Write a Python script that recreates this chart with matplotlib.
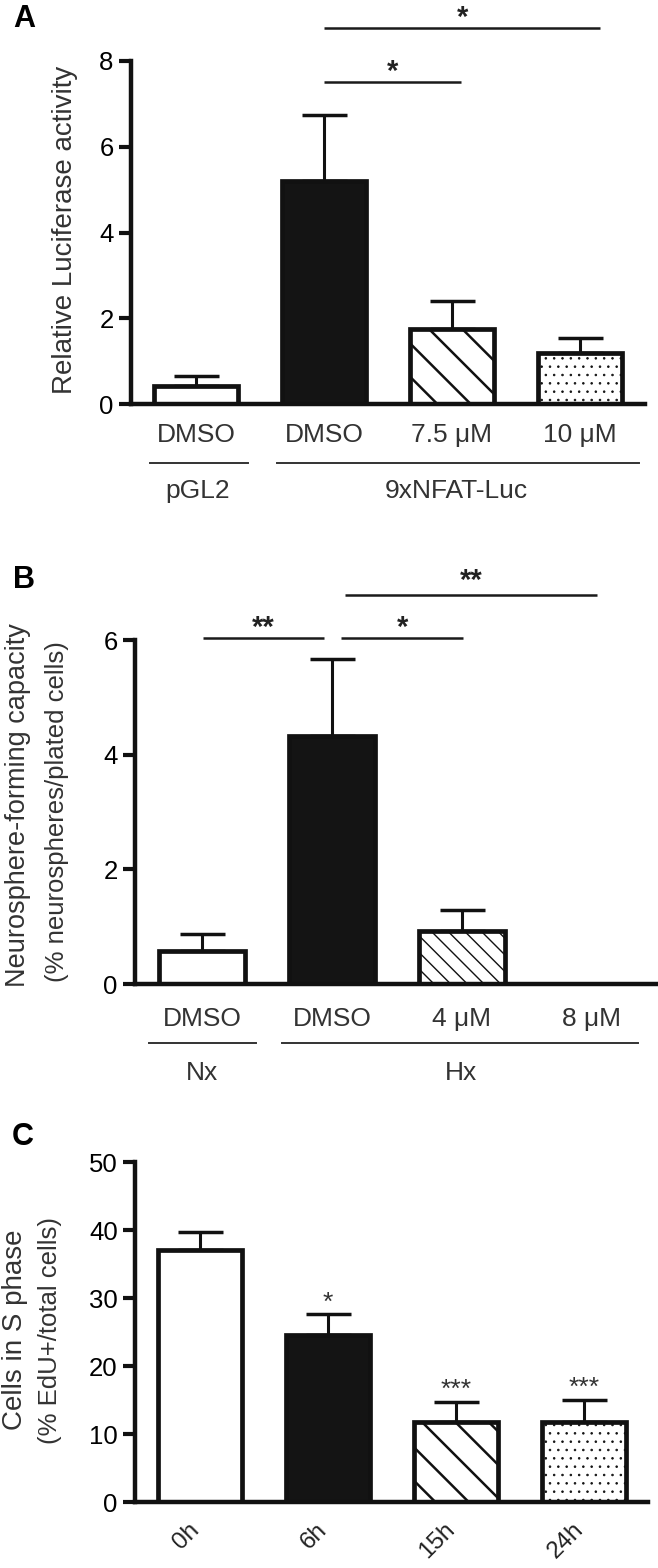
import matplotlib
matplotlib.use("Agg")
import matplotlib.pyplot as plt
import matplotlib.transforms as mtransforms
import numpy as np

plt.rcParams['font.family'] = ['Liberation Sans', 'DejaVu Sans']

# panel A - luciferase reporter
a_labels = ['DMSO', 'DMSO', '7.5 μM', '10 μM']
a_values = [0.41, 5.20, 1.76, 1.20]
a_err = [0.24, 1.54, 0.64, 0.33]
a_groups = ['pGL2', '9xNFAT-Luc']

# panel B - neurosphere forming
b_labels = ['DMSO', 'DMSO', '4 μM', '8 μM']
b_values = [0.58, 4.32, 0.92, 0.0]
b_err = [0.29, 1.35, 0.37, 0.0]
b_groups = ['Nx', 'Hx']

# panel C - S phase
c_labels = ['0h', '6h', '15h', '24h']
c_values = [37.1, 24.6, 11.7, 11.7]
c_err = [2.6, 3.0, 3.0, 3.3]
c_stars = ['', '*', '***', '***']

W, H = 658, 1568
fig = plt.figure(figsize=(W / 100, H / 100), dpi=100)

INK = '#111111'
GREY = '#333333'


def px_axes(left, top, right, bottom):
    return fig.add_axes([left / W, 1 - bottom / H, (right - left) / W, (bottom - top) / H])


def bars(ax, values, err, hatches, hatch_lws, width=0.66):
    x = np.arange(len(values))
    faces = ['white', '#141414', 'white', 'white']
    for i in range(len(values)):
        with plt.rc_context({'hatch.linewidth': hatch_lws[i]}):
            b = ax.bar(x[i], values[i], width=width, color=faces[i], edgecolor=INK,
                       linewidth=3.4, hatch=hatches[i], zorder=3)
        for p in b:
            if hasattr(p, 'set_hatch_linewidth'):
                p.set_hatch_linewidth(hatch_lws[i])
    ax.errorbar(x, values, yerr=[np.zeros(len(values)), err], fmt='none',
                ecolor=INK, elinewidth=2.2, capsize=16.2, capthick=2.5, zorder=1)
    return x


def style(ax, xlim, ylim, yticks):
    ax.set_xlim(*xlim)
    ax.set_ylim(*ylim)
    ax.set_yticks(yticks)
    for s in ['top', 'right']:
        ax.spines[s].set_visible(False)
    for s in ['left', 'bottom']:
        ax.spines[s].set_linewidth(3.2)
        ax.spines[s].set_color(INK)
        ax.spines[s].set_zorder(4)
    ax.tick_params(axis='y', length=9, width=3, color=INK, labelsize=18.5, pad=3.5)
    ax.tick_params(axis='x', length=0, labelsize=19, labelcolor=GREY)


def sig(ax, x0, x1, y, ystar, text, fs=21):
    ax.plot([x0, x1], [y, y], color='#1a1a1a', lw=1.8, clip_on=False, solid_capstyle='butt')
    ax.annotate(text, xy=((x0 + x1) / 2, ystar), xytext=(0, -0.56 * fs),
                textcoords='offset points', ha='center', va='baseline',
                fontsize=fs, fontweight='bold', color='#222222', annotation_clip=False)


def group_line(x0, x1, y):
    fig.add_artist(plt.Line2D([x0 / W, x1 / W], [1 - y / H, 1 - y / H],
                              transform=fig.transFigure, color=GREY, lw=1.4))


def ftext(x, y, s, **kw):
    return fig.text(x / W, 1 - y / H, s, **kw)


# ---------------- A ----------------
axA = px_axes(131, 61, 645, 404)
xa = bars(axA, a_values, a_err, [None, None, '\\', '..'], [1, 1, 1.8, 0.6])
style(axA, (-0.508, 3.508), (0, 8), [0, 2, 4, 6, 8])
axA.set_xticks(xa, a_labels)
axA.tick_params(axis='x', pad=13.5)
sig(axA, 1.0, 3.16, 8.77, 9.19, '*')
sig(axA, 1.0, 2.07, 7.51, 7.95, '*')
group_line(150, 248, 463)
group_line(277, 639, 463)
ftext(198, 498, a_groups[0], ha='center', va='baseline', fontsize=19, color=GREY)
ftext(456, 498, a_groups[1], ha='center', va='baseline', fontsize=19, color=GREY)
ftext(65, 230, 'Relative Luciferase activity', rotation=90, ha='center', va='center',
      fontsize=20, color=GREY)
ftext(13, 27, 'A', fontsize=22, fontweight='bold', va='baseline')

# ---------------- B ----------------
axB = px_axes(135, 640, 657, 984)
xb = bars(axB, b_values, b_err, [None, None, '\\\\', None], [1, 1, 1.0, 1])
style(axB, (-0.515, 3.5), (0, 6), [0, 2, 4, 6])
axB.set_xticks(xb, b_labels)
axB.tick_params(axis='x', pad=16.5)
sig(axB, 0.01, 0.94, 6.04, 6.35, '**')
sig(axB, 1.07, 2.01, 6.04, 6.35, '*')
sig(axB, 1.10, 3.04, 6.79, 7.17, '**')
group_line(149, 256, 1043)
group_line(282, 638, 1043)
ftext(202, 1080, b_groups[0], ha='center', va='baseline', fontsize=19, color=GREY)
ftext(461, 1080, b_groups[1], ha='center', va='baseline', fontsize=19, color=GREY)
ftext(18, 805, 'Neurosphere-forming capacity', rotation=90, ha='center', va='center',
      fontsize=19.5, color=GREY)
ftext(57, 812, '(% neurospheres/plated cells)', rotation=90, ha='center', va='center',
      fontsize=18.5, color=GREY)
ftext(13, 588, 'B', fontsize=22, fontweight='bold', va='baseline')

# ---------------- C ----------------
axC = px_axes(135, 1162, 648, 1502)
xc = bars(axC, c_values, c_err, [None, None, '\\', '..'], [1, 1, 1.8, 0.6])
style(axC, (-0.508, 3.5), (0, 50), [0, 10, 20, 30, 40, 50])
axC.set_xticks(xc, c_labels)
axC.tick_params(axis='x', pad=12, labelsize=17.5, labelcolor='#222222')
offset = mtransforms.ScaledTranslation(-12 / 100, 0, fig.dpi_scale_trans)
for lab in axC.get_xticklabels():
    lab.set_rotation(45)
    lab.set_ha('right')
    lab.set_rotation_mode('anchor')
    lab.set_transform(lab.get_transform() + offset)
star_y = [0, 30.4, 17.6, 17.9]
for i, s in enumerate(c_stars):
    if s:
        axC.annotate(s, xy=(xc[i], star_y[i]), xytext=(0, -0.56 * 19),
                     textcoords='offset points', ha='center', va='baseline',
                     fontsize=19, color=GREY, annotation_clip=False)
ftext(15, 1330, 'Cells in S phase', rotation=90, ha='center', va='center',
      fontsize=20, color=GREY)
ftext(50, 1330, '(% EdU+/total cells)', rotation=90, ha='center', va='center',
      fontsize=18.5, color=GREY)
ftext(12, 1145, 'C', fontsize=22, fontweight='bold', va='baseline')

fig.savefig('out.png', dpi=100)
